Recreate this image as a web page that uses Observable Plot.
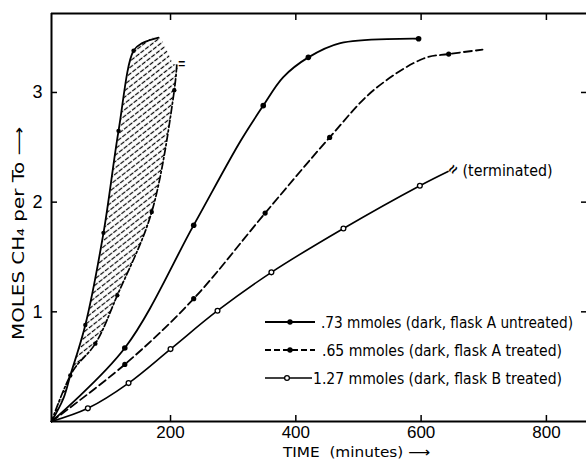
<!DOCTYPE html>
<html><head><meta charset="utf-8">
<script src="https://cdn.jsdelivr.net/npm/d3@7"></script>
<script src="https://cdn.jsdelivr.net/npm/@observablehq/plot@0.6"></script>
<style>body{margin:0;background:#fff}</style>
</head><body><div id="chart"></div>
<script>
// ---- data ----
const xTicks = [200, 400, 600, 800];
const yTicks = [1, 2, 3];
const xDomain = [10, 864];
const yDomain = [0, 3.72];
const legendLabels = [".73 mmoles (dark, flask A untreated)", ".65 mmoles (dark, flask A treated)", "1.27 mmoles (dark, flask B treated)"];
const xTitle = "TIME  (minutes) \u27F6";
const yTitle = "MOLES CH\u2084 per To \u27F6";
const noteText = "(terminated)";

// series 1: .73 mmoles, flask A untreated (solid, filled dots)
const s1Time  = [10, 127, 237, 312, 348, 380, 420, 471, 596];
const s1Moles = [0, 0.67, 1.79, 2.56, 2.88, 3.14, 3.32, 3.45, 3.49];
const s1Mark  = [0, 1, 1, 0, 1, 0, 1, 0, 1];
// series 2: .65 mmoles, flask A treated (dashed, filled dots)
const s2Time  = [10, 127, 237, 351, 454, 524, 604, 644, 698];
const s2Moles = [0, 0.52, 1.12, 1.90, 2.59, 3.02, 3.31, 3.35, 3.39];
const s2Mark  = [0, 1, 1, 1, 1, 0, 0, 1, 0];
// series 3: 1.27 mmoles, flask B treated (solid, open circles)
const s3Time  = [10, 68, 133, 200, 275, 361, 476, 598, 643];
const s3Moles = [0, 0.12, 0.35, 0.66, 1.01, 1.36, 1.76, 2.15, 2.28];
const s3Mark  = [0, 1, 1, 1, 1, 1, 1, 1, 0];
// hatched band: left (upper) boundary and right (lower) boundary
const bandLeftTime  = [10, 29, 40, 64, 93, 117, 141, 155, 181];
const bandLeftMoles = [0, 0.21, 0.42, 0.88, 1.72, 2.65, 3.38, 3.45, 3.50];
const bandLeftMark  = [0, 0, 1, 1, 1, 1, 1, 0, 0];
const bandCapTime  = [205];
const bandCapMoles = [3.26];
const bandRightTime  = [210, 206, 170, 115, 80, 44, 10];
const bandRightMoles = [3.25, 3.02, 1.91, 1.15, 0.71, 0.46, 0];
const bandRightMark  = [0, 1, 1, 1, 1, 0, 0];

const rows = (T, M, K) => T.map((t, i) => ({t, m: M[i], mark: K ? K[i] : 0}));
const s1 = rows(s1Time, s1Moles, s1Mark);
const s2 = rows(s2Time, s2Moles, s2Mark);
const s3 = rows(s3Time, s3Moles, s3Mark);
const bLeft = rows(bandLeftTime, bandLeftMoles, bandLeftMark);
const bRight = rows(bandRightTime, bandRightMoles, bandRightMark);
const band = [...bLeft, ...rows(bandCapTime, bandCapMoles), ...bRight];
const s3End = [s3[s3.length - 1]];
const bandCapEnd = rows(bandCapTime, bandCapMoles);

const FONT = '"DejaVu Sans Condensed","Liberation Sans Narrow","Roboto Condensed","Liberation Sans",sans-serif';
const TICKFONT = '"Liberation Sans", Arial, sans-serif';

const chart = Plot.plot({
  width: 586, height: 459,
  marginTop: 13, marginBottom: 38, marginLeft: 51, marginRight: 0,
  x: {domain: xDomain},
  y: {domain: yDomain},
  style: {background: "#fff", color: "#000", fontFamily: TICKFONT, overflow: "visible"},
  marks: [
    Plot.line(band, {x: "t", y: "m", fill: "url(#hatch)", stroke: null, curve: "catmull-rom"}),
    Plot.line(bLeft, {x: "t", y: "m", stroke: "#000", strokeWidth: 1.8, curve: "catmull-rom"}),
    Plot.line(bRight, {x: "t", y: "m", stroke: "#000", strokeWidth: 1.7, strokeDasharray: "7,2.5,2,2.5", curve: "catmull-rom"}),
    Plot.dot(bLeft.filter(d => d.mark), {x: "t", y: "m", r: 2.2, fill: "#000", stroke: null}),
    Plot.dot(bRight.filter(d => d.mark), {x: "t", y: "m", r: 2.2, fill: "#000", stroke: null}),
    Plot.line(s1, {x: "t", y: "m", stroke: "#000", strokeWidth: 1.8, curve: "catmull-rom"}),
    Plot.line(s2, {x: "t", y: "m", stroke: "#000", strokeWidth: 1.8, strokeDasharray: "8,4", curve: "catmull-rom"}),
    Plot.line(s3, {x: "t", y: "m", stroke: "#000", strokeWidth: 1.6, curve: "catmull-rom"}),
    Plot.dot(s1.filter(d => d.mark), {x: "t", y: "m", r: 2.8, fill: "#000", stroke: null}),
    Plot.dot(s2.filter(d => d.mark), {x: "t", y: "m", r: 2.6, fill: "#000", stroke: null}),
    Plot.dot(s3.filter(d => d.mark), {x: "t", y: "m", r: 2.4, fill: "#fff", stroke: "#000", strokeWidth: 1.3}),
    Plot.text(s3End, {x: "t", y: "m", text: () => "\u2248", rotate: -55, dx: 5, dy: -2, fontSize: 15, fontWeight: "bold"}),
    Plot.text(bandCapEnd, {x: "t", y: "m", text: () => "=", dx: 8, dy: 0, fontSize: 12, fontWeight: "bold"}),
    // frame (top, left, bottom)
    Plot.ruleY([yDomain[0]], {strokeWidth: 2}),
    Plot.ruleY([yDomain[1]], {strokeWidth: 2}),
    Plot.ruleX([xDomain[0]], {strokeWidth: 2}),
    // inward ticks
    Plot.axisX({anchor: "bottom", ticks: xTicks, tickSize: 6, dy: -6, text: null, label: null, strokeWidth: 1.5}),
    Plot.axisX({anchor: "top", ticks: xTicks, tickSize: 6, dy: 6, text: null, label: null, strokeWidth: 1.5}),
    Plot.axisY({anchor: "left", ticks: yTicks, tickSize: 6, dx: 6, text: null, label: null, strokeWidth: 1.5}),
    Plot.axisY({anchor: "right", ticks: yTicks, tickSize: 6, dx: -6, text: null, label: null, strokeWidth: 1.5}),
    // tick labels
    Plot.axisX({anchor: "bottom", ticks: xTicks, tickSize: 0, tickPadding: 4, label: null, fontSize: 17, tickFormat: d3.format("d")}),
    Plot.axisY({anchor: "left", ticks: yTicks, tickSize: 0, tickPadding: 9, label: null, fontSize: 18, tickFormat: d3.format("d")})
  ]
});

const svg = d3.select(chart);
const defs = svg.insert("defs", ":first-child");
const pat = defs.append("pattern").attr("id", "hatch")
  .attr("patternUnits", "userSpaceOnUse").attr("width", 6).attr("height", 5)
  .attr("patternTransform", "rotate(-38)");
pat.append("line").attr("x1", 0).attr("y1", 2.5).attr("x2", 6).attr("y2", 2.5)
  .attr("stroke", "#000").attr("stroke-width", 1.2).attr("stroke-dasharray", "4.5,1.5");

const ann = svg.append("g").attr("text-anchor", "start").attr("font-family", FONT).attr("fill", "#000");

// axis titles
ann.append("text").text(xTitle)
  .attr("x", 283).attr("y", 457).attr("font-size", 14)
  .attr("textLength", 147).attr("lengthAdjust", "spacingAndGlyphs");
ann.append("text").text(yTitle)
  .attr("transform", "translate(24,340) rotate(-90)").attr("font-size", 15)
  .attr("textLength", 213).attr("lengthAdjust", "spacingAndGlyphs");

// annotation text next to series 3 end
const sx = chart.scale("x"), sy = chart.scale("y");
const endPt = s3[s3.length - 1];
ann.append("text").text(noteText)
  .attr("x", sx.apply(endPt.t) + 15).attr("y", sy.apply(endPt.m) + 5)
  .attr("font-size", 15)
  .attr("textLength", 90).attr("lengthAdjust", "spacingAndGlyphs");

// legend
const lg = ann.append("g").attr("font-size", 16);
const rowY = [322, 350, 378];
const textX = [321, 322, 313];
const textW = [252, 240, 249];
const swatch = [
  {dash: null, w: 1.8},
  {dash: "6,3", w: 1.8},
  {dash: null, w: 1.6}
];
rowY.forEach((y, i) => {
  lg.append("line").attr("x1", 265).attr("x2", i === 2 ? 312 : 315).attr("y1", y).attr("y2", y)
    .attr("stroke", "#000").attr("stroke-width", swatch[i].w).attr("stroke-dasharray", swatch[i].dash);
  if (i === 2) {
    lg.append("circle").attr("cx", 287).attr("cy", y).attr("r", 2.4).attr("fill", "#fff").attr("stroke", "#000").attr("stroke-width", 1.3);
  } else {
    lg.append("circle").attr("cx", 290).attr("cy", y).attr("r", 2.7).attr("fill", "#000");
  }
  lg.append("text").text(legendLabels[i]).attr("x", textX[i]).attr("y", y + 6)
    .attr("textLength", textW[i]).attr("lengthAdjust", "spacingAndGlyphs");
});

document.getElementById("chart").appendChild(chart);
</script>
</body></html>
